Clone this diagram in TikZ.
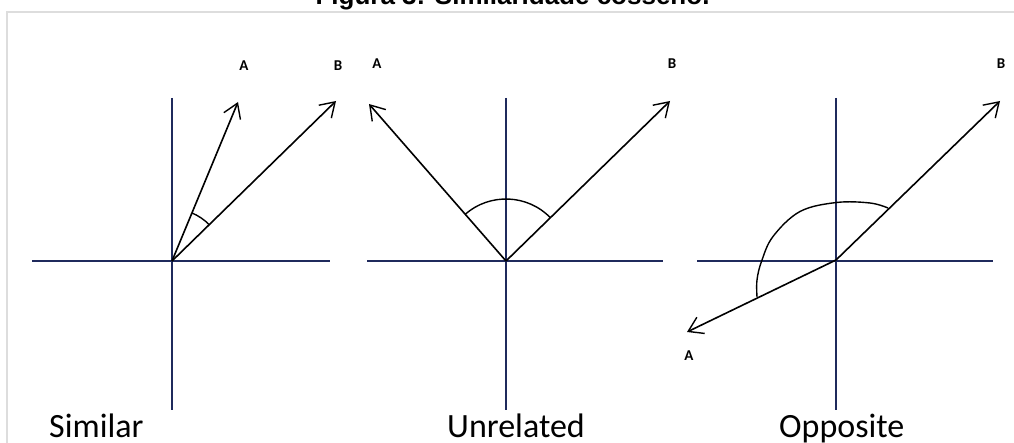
\documentclass[tikz,border=0pt]{standalone}
\usepackage{fontspec}
\setmainfont{Carlito}
\newfontfamily\titlefont{Liberation Sans}
\usetikzlibrary{arrows.meta}
\definecolor{axiscol}{HTML}{1F2A5C}
\definecolor{framecol}{HTML}{DDDDDD}
\tikzset{
  axis/.style={draw=axiscol, line width=1.3pt},
  vec/.style={draw=black, line width=1.6pt, -{Straight Barb[length=14pt,width=18pt,line width=1.4pt]}},
  anglearc/.style={draw=black, line width=1.4pt},
  vlabel/.style={font=\fontsize{15}{15}\selectfont\bfseries, inner sep=0pt},
  caption/.style={font=\fontsize{34}{34}\selectfont, anchor=base west, inner sep=0pt},
}
\begin{document}
\begin{tikzpicture}[x=1pt,y=-1pt]
\useasboundingbox (0,0) rectangle (1014,443);
% frame and title
\draw[framecol, line width=1.5pt] (7,443) -- (7,12) -- (1016,12);
\node[anchor=base, inner sep=0pt, font=\titlefont\fontsize{26}{26}\selectfont\bfseries] (title) at (512.5,5) {Figura 3: Similaridade cosseno.};

% ---------- Similar ----------
\coordinate (O1) at (172,261);
\coordinate (N1) at (172,98);  \coordinate (S1) at (172,410);
\coordinate (W1) at (32,261);  \coordinate (E1) at (330,261);
\coordinate (A1) at (238,102); \coordinate (B1) at (336,101);
\draw[axis] (N1) -- (S1);
\draw[axis] (W1) -- (E1);
\draw[vec] (O1) -- (A1);
\draw[vec] (O1) -- (B1);
\draw[anglearc] ([shift={(-44.3:52)}]O1) arc[start angle=-44.3, end angle=-67.5, radius=52];
\node[vlabel] (la1) at (244,66) {A};
\node[vlabel] (lb1) at (338,66) {B};
\node[caption] (c1) at (49,437) {Similar};

% ---------- Unrelated ----------
\coordinate (O2) at (506,261);
\coordinate (N2) at (506,98);  \coordinate (S2) at (506,410);
\coordinate (W2) at (367,261); \coordinate (E2) at (663,261);
\coordinate (A2) at (369,104); \coordinate (B2) at (670,101);
\draw[axis] (N2) -- (S2);
\draw[axis] (W2) -- (E2);
\draw[vec] (O2) -- (A2);
\draw[vec] (O2) -- (B2);
\draw[anglearc] ([shift={(-44.3:62)}]O2) arc[start angle=-44.3, end angle=-131, radius=62];
\node[vlabel] (la2) at (377,64) {A};
\node[vlabel] (lb2) at (672,64) {B};
\node[caption] (c2) at (447,437) {Unrelated};

% ---------- Opposite ----------
\coordinate (O3) at (836,260);
\coordinate (N3) at (836,98);  \coordinate (S3) at (836,410);
\coordinate (W3) at (697,261); \coordinate (E3) at (993,261);
\coordinate (A3) at (687,332); \coordinate (B3) at (1000,101);
\draw[axis] (N3) -- (S3);
\draw[axis] (W3) -- (E3);
\draw[vec] (O3) -- (A3);
\draw[vec] (O3) -- (B3);
\draw[anglearc] plot[smooth, tension=0.6] coordinates {(888,208) (870,203) (836.5,202.5) (800,211.5) (773,236.5) (761.5,261.5) (757,280) (757,297)};
\node[vlabel] (la3) at (689,356) {A};
\node[vlabel] (lb3) at (1001,64) {B};
\node[caption] (c3) at (779,437) {Opposite};
\end{tikzpicture}
\end{document}
